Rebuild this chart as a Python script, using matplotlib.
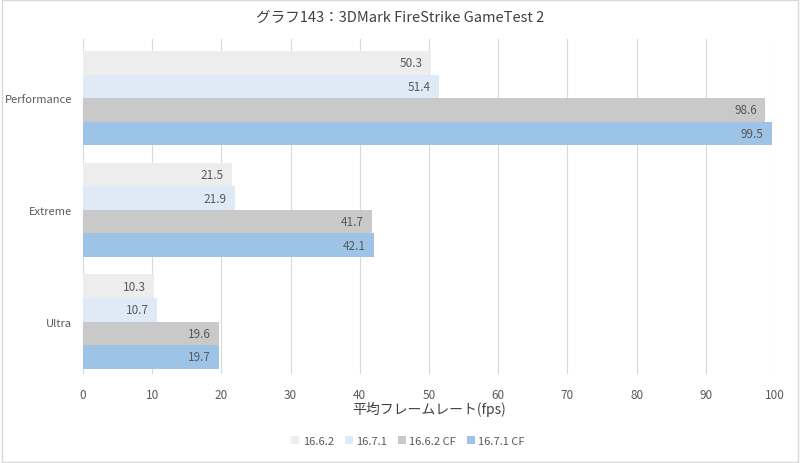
import matplotlib
matplotlib.use("Agg")
import matplotlib.pyplot as plt
import numpy as np
from matplotlib.patches import Rectangle

plt.rcParams['font.family'] = ['Noto Sans CJK JP', 'DejaVu Sans']

categories = ["Ultra", "Extreme", "Performance"]
series_names = ["16.6.2", "16.7.1", "16.6.2 CF", "16.7.1 CF"]
values = {
    "16.6.2": [10.3, 21.5, 50.3],
    "16.7.1": [10.7, 21.9, 51.4],
    "16.6.2 CF": [19.6, 41.7, 98.6],
    "16.7.1 CF": [19.7, 42.1, 99.5],
}
colors = ["#EDEDED", "#DEEBF7", "#C9C9C9", "#9DC3E6"]
xticks = list(range(0, 101, 10))

text_color = "#595959"
grid_color = "#D9D9D9"

fig = plt.figure(figsize=(8, 4.64), dpi=100)
ax = fig.add_axes([83/800, 1-375/464, (775-83)/800, (375-40)/464])

y = np.arange(len(categories))
group_w = 0.845
bh = group_w / len(series_names)
for i, (name, c) in enumerate(zip(series_names, colors)):
    offs = group_w/2 - bh/2 - i*bh
    vals = values[name]
    bars = ax.barh(y + offs, vals, height=bh, color=c, label=name, zorder=3)
    for b, v in zip(bars, vals):
        ax.text(v - 1.2, b.get_y() + bh/2, f"{v:.1f}", ha="right", va="center",
                fontsize=8.5, color=text_color, zorder=4)

ax.set_xlim(0, 100)
ax.set_ylim(-0.47, 2.53)
ax.set_xticks(xticks)
ax.set_yticks(y)
ax.set_yticklabels(categories)
ax.tick_params(axis="x", length=0, labelcolor=text_color, labelsize=8.5, pad=10)
ax.tick_params(axis="y", length=0, labelcolor=text_color, labelsize=8, pad=8)
ax.grid(axis="x", color=grid_color, linewidth=0.8, zorder=0)
for s in ["top", "right", "bottom", "left"]:
    ax.spines[s].set_visible(False)
ax.set_xlabel("平均フレームレート(fps)", fontsize=10, color="#404040", labelpad=0)

fig.text(0.5, 1-18/464, "グラフ143：3DMark FireStrike GameTest 2", ha="center", va="center",
         fontsize=10.5, color="#404040")

leg = fig.legend(loc="center", bbox_to_anchor=(0.51, 1-442/464), ncol=4, frameon=False,
                 fontsize=8, handlelength=0.7, handleheight=0.7, handletextpad=0.3,
                 columnspacing=1.0, labelcolor=text_color)

fig.patches.append(Rectangle((0.002, 0.002), 0.996, 0.996, transform=fig.transFigure,
                             fill=False, edgecolor="#D9D9D9", linewidth=1))

fig.savefig("out.png", dpi=100, facecolor="white")
